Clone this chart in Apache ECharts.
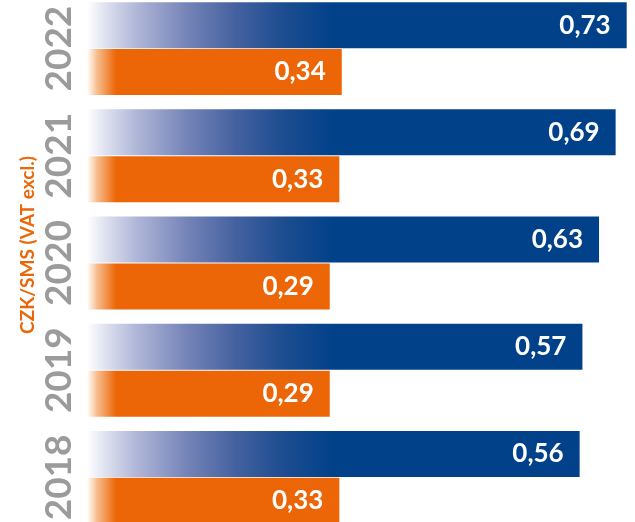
<!DOCTYPE html>
<html>
<head>
<meta charset="utf-8">
<script src="https://cdn.jsdelivr.net/npm/echarts@6/dist/echarts.min.js"></script>
<style>html,body{margin:0;padding:0;background:#fff;overflow:hidden}#c{position:absolute;left:0;top:-5px;width:635px;height:536px}</style>
</head>
<body>
<div id="c"></div>
<script>
// Data
var years = ['2022', '2021', '2020', '2019', '2018'];
var totalPrice = [0.73, 0.69, 0.63, 0.57, 0.56];   // blue bars
var smsPrice = [0.34, 0.33, 0.29, 0.29, 0.33];     // orange bars
var axisTitle = 'CZK/SMS (VAT excl.)';

var chart = echarts.init(document.getElementById('c'), null, {renderer: 'canvas'});
var fmt = function (p) { return String(p.value.toFixed(2)).replace('.', ','); };
var blueGrad = new echarts.graphic.LinearGradient(0, 0, 0, 0, [
  {offset: 0, color: '#ffffff'},
  {offset: 0.08, color: '#dcdfee'},
  {offset: 0.2, color: '#b0b6d8'},
  {offset: 0.4, color: '#7584b8'},
  {offset: 0.6, color: '#44619f'},
  {offset: 0.8, color: '#1c4c90'},
  {offset: 1, color: '#00418a'}
]);
blueGrad.x = 87; blueGrad.y = 0; blueGrad.x2 = 335; blueGrad.y2 = 0; blueGrad.global = true;
var orangeGrad = new echarts.graphic.LinearGradient(0, 0, 0, 0, [
  {offset: 0, color: '#ffffff'},
  {offset: 0.35, color: '#f7bd8e'},
  {offset: 1, color: '#ec6608'}
]);
orangeGrad.x = 87; orangeGrad.y = 0; orangeGrad.x2 = 116; orangeGrad.y2 = 0; orangeGrad.global = true;

var labelFont = {show: true, position: 'insideRight', distance: 16, color: '#fff',
  fontFamily: 'Lato', fontWeight: 'bold', fontSize: 26, formatter: fmt};

chart.setOption({
  animation: false,
  grid: {left: 87, right: 0, top: 0, bottom: 0, containLabel: false},
  xAxis: [
    {type: 'value', min: -1.22, max: 0.76, startValue: -1.22, show: false, splitLine: {show: false}},
    {type: 'value', min: -0.72, max: 1.56, startValue: -0.72, show: false, splitLine: {show: false}}
  ],
  yAxis: {
    type: 'category', data: years, inverse: true,
    axisLine: {show: false}, axisTick: {show: false}, splitLine: {show: false},
    axisLabel: {interval: 0, hideOverlap: false, rotate: 90, margin: 9, color: '#9b9b9b',
      fontFamily: 'Lato', fontWeight: 'bold', fontSize: 37}
  },
  graphic: [{
    type: 'text', x: 28, y: 250, rotation: Math.PI / 2,
    style: {text: axisTitle, fill: '#ec6608', font: 'bold 19px Lato', align: 'center', verticalAlign: 'middle'}
  }],
  series: [
    {type: 'bar', xAxisIndex: 0, data: totalPrice, barWidth: 46, barGap: '2%',
      itemStyle: {color: blueGrad}, label: labelFont},
    {type: 'bar', xAxisIndex: 1, data: smsPrice, barWidth: 46, barGap: '2%',
      itemStyle: {color: orangeGrad}, label: labelFont}
  ]
});
</script>
</body>
</html>
